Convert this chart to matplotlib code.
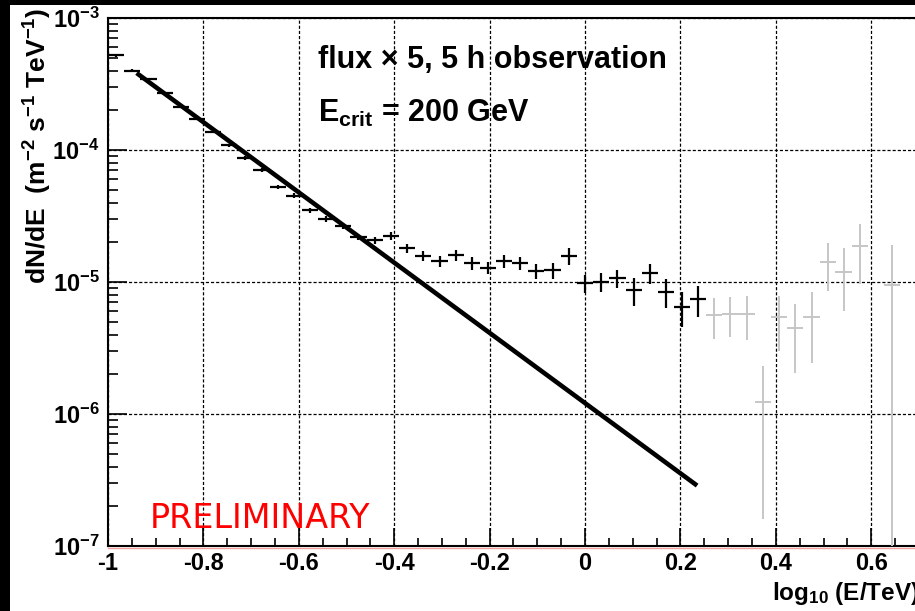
import numpy as np
import matplotlib
matplotlib.use("Agg")
import matplotlib.pyplot as plt
from matplotlib.patches import Rectangle
from matplotlib.lines import Line2D
from matplotlib.ticker import FixedLocator, LogLocator, NullFormatter

plt.rcParams['font.family'] = ['Liberation Sans', 'DejaVu Sans']
plt.rcParams['font.weight'] = 'bold'
plt.rcParams['mathtext.fontset'] = 'custom'
plt.rcParams['mathtext.rm'] = 'Liberation Sans:bold'
plt.rcParams['mathtext.it'] = 'Liberation Sans:bold'
plt.rcParams['mathtext.bf'] = 'Liberation Sans:bold'
plt.rcParams['axes.unicode_minus'] = False

# measured spectrum, significant bins (log10 E/TeV, dN/dE, error)
x_sig = [-0.983, -0.949, -0.915, -0.881, -0.847, -0.814, -0.780, -0.746,
         -0.712, -0.678, -0.644, -0.610, -0.576, -0.542, -0.508, -0.475,
         -0.441, -0.407, -0.373, -0.339, -0.305, -0.271, -0.237, -0.203,
         -0.169, -0.136, -0.102, -0.068, -0.034, 0.000, 0.034, 0.068,
         0.102, 0.136, 0.170, 0.203, 0.237]
flux_sig = [5.2e-4, 4.0e-4, 3.45e-4, 2.7e-4, 2.12e-4, 1.72e-4, 1.37e-4, 1.09e-4,
            8.7e-5, 7.05e-5, 5.25e-5, 4.5e-5, 3.5e-5, 3.0e-5, 2.65e-5, 2.2e-5,
            2.08e-5, 2.23e-5, 1.81e-5, 1.57e-5, 1.44e-5, 1.6e-5, 1.39e-5, 1.28e-5,
            1.44e-5, 1.39e-5, 1.21e-5, 1.23e-5, 1.57e-5, 9.8e-6, 1.0e-5, 1.07e-5,
            8.7e-6, 1.17e-5, 8.4e-6, 6.45e-6, 7.4e-6]
err_sig = [1.2e-5, 9e-6, 8e-6, 6e-6, 5e-6, 4e-6, 3.5e-6, 3e-6,
           2.8e-6, 2.6e-6, 2.2e-6, 2e-6, 1.6e-6, 1.4e-6, 1.3e-6, 1.3e-6,
           1.3e-6, 1.5e-6, 1.4e-6, 1.4e-6, 1.4e-6, 1.6e-6, 1.5e-6, 1.4e-6,
           1.6e-6, 1.6e-6, 1.6e-6, 1.7e-6, 2.3e-6, 1.5e-6, 1.6e-6, 1.7e-6,
           2.1e-6, 2.0e-6, 2.1e-6, 1.9e-6, 2.0e-6]

# low-significance bins at high energy
x_low = [0.271, 0.305, 0.339, 0.373, 0.407, 0.441, 0.475, 0.509, 0.542, 0.576, 0.644]
flux_low = [5.6e-6, 5.75e-6, 5.75e-6, 1.23e-6, 5.45e-6, 4.45e-6, 5.45e-6,
            1.41e-5, 1.2e-5, 1.86e-5, 9.5e-6]
err_low = [1.9e-6, 1.95e-6, 2.1e-6, 1.07e-6, 2.45e-6, 2.4e-6, 3.0e-6,
           5.6e-6, 6.0e-6, 9.0e-6, 9.6e-6]
half_bin = 0.017

# power-law fit: dN/dE = norm * (E/TeV)^-index
fit_norm = 1.21e-6
fit_index = 2.66
fit_range = (-0.94, 0.235)

xticks = [-1.0, -0.8, -0.6, -0.4, -0.2, 0.0, 0.2, 0.4, 0.6]
xticklabels = ['-1', '-0.8', '-0.6', '-0.4', '-0.2', '0', '0.2', '0.4', '0.6']
yticks = [1e-7, 1e-6, 1e-5, 1e-4, 1e-3]
yticklabels = ['$10^{-7}$', '$10^{-6}$', '$10^{-5}$', '$10^{-4}$', '$10^{-3}$']

W, H = 915, 611
fig = plt.figure(figsize=(W / 100, H / 100), dpi=100)
fig.patch.set_facecolor('black')
fig.add_artist(Rectangle((10 / W, 0), 1, 1 - 5 / H, transform=fig.transFigure,
                         facecolor='white', edgecolor='none', zorder=-10))

x0, x1 = -1.0, 0.75
ax = fig.add_axes([108 / W, 65 / H, (1.75 * 477) / W, 528 / H])
ax.set_xlim(x0, x1)
ax.set_yscale('log')
ax.set_ylim(1e-7, 1e-3)

ax.grid(True, which='major', color='black', linestyle=(0, (2.5, 1.6)), linewidth=0.9)
ax.set_axisbelow(True)

ax.errorbar(x_low, flux_low, xerr=half_bin, yerr=err_low, fmt='none',
            ecolor='#c6c6c6', elinewidth=1.4, capsize=0, zorder=3)
ax.errorbar(x_sig, flux_sig, xerr=half_bin, yerr=err_sig, fmt='none',
            ecolor='black', elinewidth=1.6, capsize=0, zorder=4)

xf = np.linspace(fit_range[0], fit_range[1], 50)
ax.plot(xf, fit_norm * (10 ** xf) ** (-fit_index), color='black', lw=3.3,
        solid_capstyle='butt', zorder=5)

ax.xaxis.set_major_locator(FixedLocator(xticks))
ax.set_xticklabels(xticklabels)
ax.xaxis.set_minor_locator(FixedLocator(np.arange(-1.0, 0.76, 0.05)))
ax.set_yticks(yticks)
ax.set_yticklabels(yticklabels)
ax.yaxis.set_minor_locator(LogLocator(base=10, subs=np.arange(2, 10)))
ax.yaxis.set_minor_formatter(NullFormatter())

ax.tick_params(axis='both', which='both', direction='in', top=False, right=False,
               labelsize=17, colors='black')
ax.tick_params(axis='x', which='major', length=13, width=1.2, pad=4)
ax.tick_params(axis='x', which='minor', length=6, width=1.2)
ax.tick_params(axis='y', which='major', length=14, width=1.2, pad=6)
ax.tick_params(axis='y', which='minor', length=7.5, width=1.2)
for s in ax.spines.values():
    s.set_linewidth(1.5)

# faint red line under the energy axis
ax.add_line(Line2D([0, 1], [-0.003, -0.003], transform=ax.transAxes,
                   color='#f2a0a0', lw=1.0, clip_on=False))

fig.text(38 / W, 1 - 8 / H, r'dN/dE  (m$^{-2}$ s$^{-1}$ TeV$^{-1}$)', rotation=90,
         ha='center', va='top', fontsize=19, fontweight='bold')
fig.text(772 / W, 1 - 600 / H, r'log$_{10}$ (E/TeV)', ha='left', va='baseline',
         fontsize=17.5, fontweight='bold')

fig.text(318 / W, 1 - 68 / H, 'flux × 5, 5 h observation', ha='left', va='baseline',
         fontsize=22, fontweight='bold')
fig.text(318 / W, 1 - 122 / H, r'E$_{crit}$ = 200 GeV', ha='left', va='baseline',
         fontsize=22, fontweight='bold')
fig.text(150 / W, 1 - 528 / H, 'PRELIMINARY', ha='left', va='baseline',
         fontsize=24, color='red', fontweight='normal', family='DejaVu Sans')

fig.savefig('out.png', dpi=100, facecolor=fig.get_facecolor())
